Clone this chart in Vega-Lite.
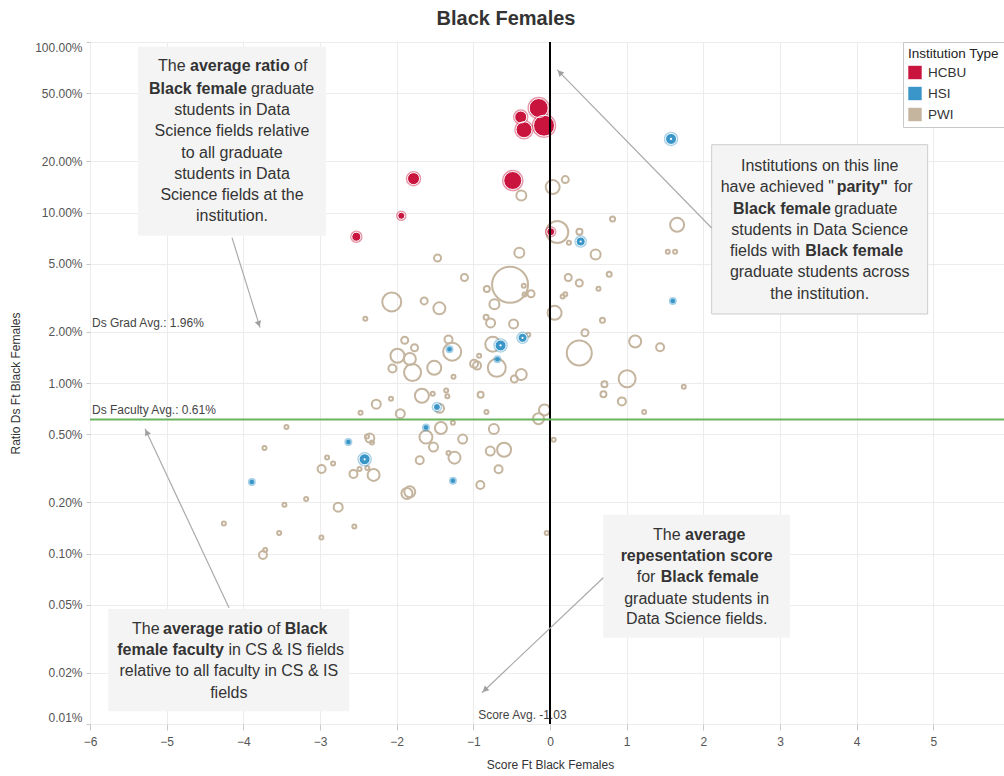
{
"$schema":"https://vega.github.io/schema/vega-lite/v6.json",
"width":920,"height":682,
"autosize":{"type":"none"},
"padding":{"left":90,"top":42,"right":-6,"bottom":52},
"background":"white",
"title":{"text":"Black Females","fontSize":20,"fontWeight":"bold","color":"#333333","offset":12,"dx":-44,"anchor":"middle"},
"config":{"font":"Liberation Sans","view":{"stroke":null},
 "legend":{"orient":"none","legendX":813,"legendY":0,"padding":5,"strokeColor":"#c8c8c8","fillColor":"white","titleFontSize":13.5,"titleFontWeight":"normal","titleColor":"#222222","titlePadding":5,"labelFontSize":13.5,"labelColor":"#333333","labelOffset":6,"rowPadding":7,"symbolType":"square","symbolSize":180,"symbolStrokeWidth":0,"symbolOpacity":1}},
"datasets":{
"points":[
{"type":"HCBU","score":-0.147,"ratio":0.41,"grads":1444},
{"type":"HCBU","score":-0.382,"ratio":0.363,"grads":576},
{"type":"HCBU","score":-0.339,"ratio":0.306,"grads":1024},
{"type":"HCBU","score":-0.078,"ratio":0.323,"grads":1764},
{"type":"HCBU","score":-0.486,"ratio":0.154,"grads":1296},
{"type":"HCBU","score":-1.78,"ratio":0.158,"grads":576},
{"type":"HCBU","score":-1.94,"ratio":0.0957,"grads":196},
{"type":"HCBU","score":-2.526,"ratio":0.0721,"grads":324},
{"type":"HCBU","score":0.009,"ratio":0.0771,"grads":256},
{"type":"HSI","score":1.579,"ratio":0.27,"grads":484},
{"type":"HSI","score":0.4,"ratio":0.0676,"grads":324},
{"type":"HSI","score":1.602,"ratio":0.0303,"grads":81},
{"type":"HSI","score":-0.358,"ratio":0.0184,"grads":324},
{"type":"HSI","score":-0.645,"ratio":0.0166,"grads":484},
{"type":"HSI","score":-1.311,"ratio":0.0158,"grads":81},
{"type":"HSI","score":-0.686,"ratio":0.0138,"grads":81},
{"type":"HSI","score":-1.475,"ratio":0.00723,"grads":196},
{"type":"HSI","score":-1.618,"ratio":0.00548,"grads":81},
{"type":"HSI","score":-2.63,"ratio":0.00451,"grads":81},
{"type":"HSI","score":-2.418,"ratio":0.00357,"grads":484},
{"type":"HSI","score":-3.889,"ratio":0.00263,"grads":81},
{"type":"HSI","score":-1.266,"ratio":0.00267,"grads":81},
{"type":"PWI","score":0.035,"ratio":0.141,"grads":784},
{"type":"PWI","score":0.199,"ratio":0.156,"grads":196},
{"type":"PWI","score":-0.374,"ratio":0.126,"grads":400},
{"type":"PWI","score":0.095,"ratio":0.0769,"grads":1936},
{"type":"PWI","score":0.384,"ratio":0.0771,"grads":144},
{"type":"PWI","score":0.247,"ratio":0.0665,"grads":64},
{"type":"PWI","score":-0.4,"ratio":0.0581,"grads":400},
{"type":"PWI","score":0.595,"ratio":0.0567,"grads":400},
{"type":"PWI","score":-1.467,"ratio":0.0541,"grads":196},
{"type":"PWI","score":-1.116,"ratio":0.0416,"grads":196},
{"type":"PWI","score":-0.521,"ratio":0.0377,"grads":5184},
{"type":"PWI","score":-0.824,"ratio":0.0356,"grads":144},
{"type":"PWI","score":-0.342,"ratio":0.0372,"grads":64},
{"type":"PWI","score":-0.247,"ratio":0.0334,"grads":196},
{"type":"PWI","score":-0.332,"ratio":0.033,"grads":64},
{"type":"PWI","score":-0.725,"ratio":0.029,"grads":400},
{"type":"PWI","score":0.238,"ratio":0.0416,"grads":196},
{"type":"PWI","score":0.382,"ratio":0.0386,"grads":196},
{"type":"PWI","score":0.199,"ratio":0.0332,"grads":64},
{"type":"PWI","score":0.165,"ratio":0.0322,"grads":64},
{"type":"PWI","score":0.632,"ratio":0.0357,"grads":64},
{"type":"PWI","score":-2.064,"ratio":0.0299,"grads":1444},
{"type":"PWI","score":-1.641,"ratio":0.0303,"grads":196},
{"type":"PWI","score":-1.443,"ratio":0.0274,"grads":576},
{"type":"PWI","score":-2.409,"ratio":0.0238,"grads":64},
{"type":"PWI","score":0.06,"ratio":0.0258,"grads":784},
{"type":"PWI","score":-0.833,"ratio":0.0243,"grads":100},
{"type":"PWI","score":0.816,"ratio":0.0916,"grads":100},
{"type":"PWI","score":1.658,"ratio":0.0847,"grads":784},
{"type":"PWI","score":1.536,"ratio":0.0589,"grads":64},
{"type":"PWI","score":1.632,"ratio":0.0589,"grads":64},
{"type":"PWI","score":0.772,"ratio":0.0435,"grads":100},
{"type":"PWI","score":0.684,"ratio":0.0233,"grads":100},
{"type":"PWI","score":0.456,"ratio":0.0197,"grads":196},
{"type":"PWI","score":0.382,"ratio":0.015,"grads":2500},
{"type":"PWI","score":1.111,"ratio":0.0175,"grads":576},
{"type":"PWI","score":1.436,"ratio":0.0162,"grads":256},
{"type":"PWI","score":1.006,"ratio":0.0106,"grads":1156},
{"type":"PWI","score":0.71,"ratio":0.00984,"grads":144},
{"type":"PWI","score":0.697,"ratio":0.0086,"grads":144},
{"type":"PWI","score":0.9375,"ratio":0.0078,"grads":256},
{"type":"PWI","score":1.745,"ratio":0.00951,"grads":64},
{"type":"PWI","score":1.228,"ratio":0.00676,"grads":64},
{"type":"PWI","score":-0.072,"ratio":0.00695,"grads":484},
{"type":"PWI","score":-0.15,"ratio":0.00618,"grads":484},
{"type":"PWI","score":-0.775,"ratio":0.0225,"grads":324},
{"type":"PWI","score":-0.475,"ratio":0.0222,"grads":324},
{"type":"PWI","score":-0.283,"ratio":0.0192,"grads":64},
{"type":"PWI","score":-0.746,"ratio":0.0169,"grads":900},
{"type":"PWI","score":-1.324,"ratio":0.018,"grads":256},
{"type":"PWI","score":-1.276,"ratio":0.01526,"grads":1296},
{"type":"PWI","score":-1.895,"ratio":0.0178,"grads":196},
{"type":"PWI","score":-1.767,"ratio":0.0161,"grads":196},
{"type":"PWI","score":-1.99,"ratio":0.01445,"grads":784},
{"type":"PWI","score":-1.828,"ratio":0.01384,"grads":576},
{"type":"PWI","score":-2.055,"ratio":0.01216,"grads":256},
{"type":"PWI","score":-1.793,"ratio":0.01153,"grads":1156},
{"type":"PWI","score":-1.51,"ratio":0.01227,"grads":784},
{"type":"PWI","score":-0.99,"ratio":0.01297,"grads":256},
{"type":"PWI","score":-0.951,"ratio":0.01265,"grads":256},
{"type":"PWI","score":-0.924,"ratio":0.01445,"grads":64},
{"type":"PWI","score":-0.694,"ratio":0.01227,"grads":1296},
{"type":"PWI","score":-1.259,"ratio":0.01089,"grads":64},
{"type":"PWI","score":-0.375,"ratio":0.01122,"grads":484},
{"type":"PWI","score":-0.465,"ratio":0.01055,"grads":196},
{"type":"PWI","score":-0.905,"ratio":0.00854,"grads":144},
{"type":"PWI","score":-1.671,"ratio":0.00842,"grads":784},
{"type":"PWI","score":-1.53,"ratio":0.00865,"grads":64},
{"type":"PWI","score":-1.354,"ratio":0.00905,"grads":64},
{"type":"PWI","score":-1.339,"ratio":0.00837,"grads":64},
{"type":"PWI","score":-2.266,"ratio":0.00751,"grads":324},
{"type":"PWI","score":-2.074,"ratio":0.00809,"grads":64},
{"type":"PWI","score":-2.471,"ratio":0.0067,"grads":64},
{"type":"PWI","score":-1.953,"ratio":0.00661,"grads":324},
{"type":"PWI","score":-0.829,"ratio":0.00676,"grads":64},
{"type":"PWI","score":-1.441,"ratio":0.0071,"grads":324},
{"type":"PWI","score":-1.267,"ratio":0.00585,"grads":64},
{"type":"PWI","score":0.048,"ratio":0.00465,"grads":64},
{"type":"PWI","score":-0.043,"ratio":0.00132,"grads":64},
{"type":"PWI","score":-3.4375,"ratio":0.00552,"grads":64},
{"type":"PWI","score":-3.724,"ratio":0.00415,"grads":64},
{"type":"PWI","score":-2.908,"ratio":0.00366,"grads":64},
{"type":"PWI","score":-2.829,"ratio":0.00337,"grads":64},
{"type":"PWI","score":-2.979,"ratio":0.00313,"grads":256},
{"type":"PWI","score":-2.35,"ratio":0.00475,"grads":324},
{"type":"PWI","score":-2.387,"ratio":0.00486,"grads":64},
{"type":"PWI","score":-2.322,"ratio":0.00447,"grads":64},
{"type":"PWI","score":-2.563,"ratio":0.00293,"grads":256},
{"type":"PWI","score":-2.484,"ratio":0.00313,"grads":64},
{"type":"PWI","score":-2.383,"ratio":0.00317,"grads":64},
{"type":"PWI","score":-2.301,"ratio":0.00289,"grads":576},
{"type":"PWI","score":-1.618,"ratio":0.00482,"grads":676},
{"type":"PWI","score":-1.52,"ratio":0.00421,"grads":324},
{"type":"PWI","score":-1.423,"ratio":0.00545,"grads":576},
{"type":"PWI","score":-1.699,"ratio":0.00352,"grads":256},
{"type":"PWI","score":-1.246,"ratio":0.00365,"grads":576},
{"type":"PWI","score":-1.324,"ratio":0.00388,"grads":64},
{"type":"PWI","score":-1.139,"ratio":0.00469,"grads":324},
{"type":"PWI","score":-0.732,"ratio":0.00538,"grads":400},
{"type":"PWI","score":-0.779,"ratio":0.00399,"grads":324},
{"type":"PWI","score":-0.599,"ratio":0.00406,"grads":784},
{"type":"PWI","score":-0.671,"ratio":0.00312,"grads":256},
{"type":"PWI","score":-0.909,"ratio":0.00252,"grads":256},
{"type":"PWI","score":-1.866,"ratio":0.00225,"grads":484},
{"type":"PWI","score":-1.829,"ratio":0.0023,"grads":484},
{"type":"PWI","score":-3.464,"ratio":0.00193,"grads":64},
{"type":"PWI","score":-3.181,"ratio":0.00209,"grads":64},
{"type":"PWI","score":-2.763,"ratio":0.00187,"grads":324},
{"type":"PWI","score":-4.254,"ratio":0.0015,"grads":64},
{"type":"PWI","score":-3.533,"ratio":0.00132,"grads":64},
{"type":"PWI","score":-2.982,"ratio":0.00124,"grads":64},
{"type":"PWI","score":-2.552,"ratio":0.00144,"grads":64},
{"type":"PWI","score":-3.744,"ratio":0.000981,"grads":256},
{"type":"PWI","score":-3.715,"ratio":0.00105,"grads":64}
],
"refLabels":[
{"score":-6,"ratio":0.0196,"text":"Ds Grad Avg.: 1.96%"},
{"score":-6,"ratio":0.0061,"text":"Ds Faculty Avg.: 0.61%"}
],
"scoreLabel":[{"score":-0.36,"ratio":0.0001,"text":"Score Avg. -1.03"}],
"boxes":[
{"score":-5.374,"score2":-2.922,"ratio":0.9384,"ratio2":0.0731},
{"score":0.695,"score2":3.13,"ratio":0.001689,"ratio2":0.0003208},
{"score":-5.761,"score2":-2.618,"ratio":0.0004725,"ratio2":0.0001186}
],
"boxBorder":[{"score":2.109,"score2":4.926,"ratio":0.2498,"ratio2":0.02539}],
"arrows":[
{"arrow":"a1","score":-4.148,"ratio":0.0712,"score2":-3.782,"ratio2":0.02111},
{"arrow":"a2","score":2.109,"ratio":0.08111,"score2":0.0913,"ratio2":0.688},
{"arrow":"a3","score":-4.187,"ratio":0.0004809,"score2":-5.282,"ratio2":0.005395},
{"arrow":"a4","score":0.695,"ratio":0.0007213,"score2":-0.887,"ratio2":0.0001526}
],
"centerNormal":[
{"score":-4.148,"ratio":0.4009,"text":"students in Data"},
{"score":-4.148,"ratio":0.299,"text":"Science fields relative"},
{"score":-4.148,"ratio":0.2243,"text":"to all graduate"},
{"score":-4.148,"ratio":0.1689,"text":"students in Data"},
{"score":-4.148,"ratio":0.126,"text":"Science fields at the"},
{"score":-4.148,"ratio":0.0949,"text":"institution."},
{"score":3.518,"ratio":0.1881,"text":"Institutions on this line"},
{"score":3.518,"ratio":0.0785,"text":"students in Data Science"},
{"score":3.518,"ratio":0.04453,"text":"graduate students across"},
{"score":3.518,"ratio":0.03341,"text":"the institution."},
{"score":1.913,"ratio":0.0005408,"text":"graduate students in"},
{"score":1.913,"ratio":0.0004145,"text":"Data Science fields."},
{"score":-4.189,"ratio":0.0002035,"text":"relative to all faculty in CS & IS"},
{"score":-4.189,"ratio":0.000152,"text":"fields"}
],
"centerBold":[
{"score":1.913,"ratio":0.0009616,"text":"repesentation score"}
],
"leftNormal":[
{"score":-5.113,"ratio":0.7192,"text":"The"},
{"score":-3.339,"ratio":0.7192,"text":"of"},
{"score":-3.9,"ratio":0.5322,"text":"graduate"},
{"score":2.226,"ratio":0.1404,"text":"have achieved \""},
{"score":4.487,"ratio":0.1404,"text":"for"},
{"score":3.709,"ratio":0.1053,"text":"graduate"},
{"score":2.348,"ratio":0.05912,"text":"fields with"},
{"score":1.343,"ratio":0.001289,"text":"The"},
{"score":1.131,"ratio":0.0007242,"text":"for"},
{"score":-5.452,"ratio":0.0003608,"text":"The"},
{"score":-3.691,"ratio":0.0003608,"text":"of"},
{"score":-4.195,"ratio":0.0002703,"text":"in CS & IS fields"}
],
"leftBold":[
{"score":-4.695,"ratio":0.7192,"text":"average ratio"},
{"score":-5.23,"ratio":0.5322,"text":"Black female"},
{"score":3.739,"ratio":0.1404,"text":"parity\""},
{"score":2.387,"ratio":0.1053,"text":"Black female"},
{"score":3.33,"ratio":0.05912,"text":"Black female"},
{"score":1.761,"ratio":0.001289,"text":"average"},
{"score":1.445,"ratio":0.0007242,"text":"Black female"},
{"score":-5.047,"ratio":0.0003608,"text":"average ratio"},
{"score":-3.46,"ratio":0.0003608,"text":"Black"},
{"score":-5.644,"ratio":0.0002703,"text":"female faculty"}
]
},
"layer":[
{"data":{"name":"points"},"transform":[{"filter":"datum.type === 'PWI'"}],
 "mark":{"type":"point","shape":"circle","filled":false,"strokeWidth":2,"opacity":1},
 "encoding":{
  "x":{"field":"score","type":"quantitative","scale":{"domain":[-6,6],"nice":false,"zero":false},
   "axis":{"title":"Score Ft Black Females","values":[-6,-5,-4,-3,-2,-1,0,1,2,3,4,5,6],"format":"d","grid":true,"gridColor":"#ececec","domain":false,"ticks":true,"tickColor":"#c8c8c8","tickSize":6,"labelColor":"#555555","labelFontSize":12,"labelPadding":6,"labelFlush":false,"titleFontSize":12,"titleFontWeight":"normal","titleColor":"#333333","titlePadding":12}},
  "y":{"field":"ratio","type":"quantitative","scale":{"type":"log","domain":[0.0001,1],"nice":false},
   "axis":{"title":"Ratio Ds Ft Black Females","values":[1,0.5,0.2,0.1,0.05,0.02,0.01,0.005,0.002,0.001,0.0005,0.0002,0.0001],"format":".2%","grid":true,"gridColor":"#ececec","domain":false,"ticks":true,"tickColor":"#c8c8c8","tickSize":4,"labelColor":"#555555","labelFontSize":12,"labelPadding":4,"labelFlush":true,"labelOverlap":false,"titleFontSize":12,"titleFontWeight":"normal","titleColor":"#333333","titlePadding":12}},
  "size":{"field":"grads","type":"quantitative","scale":{"domain":[0,10000],"range":[0,2500]},"legend":null},
  "color":{"value":"#c5b59f"}
 }},
{"data":{"name":"points"},"transform":[{"filter":"datum.type !== 'PWI'"}],
 "mark":{"type":"point","shape":"circle","filled":true,"opacity":1,"strokeWidth":0},
 "encoding":{
  "x":{"field":"score","type":"quantitative"},
  "y":{"field":"ratio","type":"quantitative"},
  "size":{"field":"grads","type":"quantitative","legend":null},
  "fill":{"field":"type","type":"nominal","scale":{"domain":["HCBU","HSI","PWI"],"range":["#c9153e","#3a96c8","#c5b59f"]},
   "legend":{"title":"Institution Type"}}
 }},
{"data":{"name":"points"},"transform":[{"filter":"datum.type === 'HCBU'"}],
 "mark":{"type":"point","shape":"circle","filled":false,"opacity":1,"strokeWidth":3.5,"strokeOpacity":0.45,"color":"#c9153e"},
 "encoding":{
  "x":{"field":"score","type":"quantitative"},
  "y":{"field":"ratio","type":"quantitative"},
  "size":{"field":"grads","type":"quantitative","legend":null}
 }},
{"data":{"name":"points"},"transform":[{"filter":"datum.type === 'HSI'"}],
 "mark":{"type":"point","shape":"circle","filled":false,"opacity":1,"strokeWidth":3.5,"strokeOpacity":0.45,"color":"#3a96c8"},
 "encoding":{
  "x":{"field":"score","type":"quantitative"},
  "y":{"field":"ratio","type":"quantitative"},
  "size":{"field":"grads","type":"quantitative","legend":null}
 }},
{"data":{"name":"points"},"transform":[{"filter":"datum.type !== 'PWI' && datum.grads > 150"}],
 "mark":{"type":"point","shape":"circle","filled":false,"opacity":1,"strokeWidth":1,"color":"white"},
 "encoding":{
  "x":{"field":"score","type":"quantitative"},
  "y":{"field":"ratio","type":"quantitative"},
  "size":{"field":"grads","type":"quantitative","legend":null}
 }},
{"data":{"name":"points"},"transform":[{"filter":"datum.type === 'HSI' && datum.grads > 200"}],
 "mark":{"type":"point","shape":"circle","filled":true,"opacity":1,"color":"white","size":5},
 "encoding":{
  "x":{"field":"score","type":"quantitative"},
  "y":{"field":"ratio","type":"quantitative"}
 }},
{"data":{"values":[{}]},"mark":{"type":"rule","color":"#000000","strokeWidth":2},
 "encoding":{"x":{"datum":0,"type":"quantitative"}}},
{"data":{"values":[{}]},"mark":{"type":"rule","color":"#6bb35e","strokeWidth":2},
 "encoding":{"y":{"datum":0.0061,"type":"quantitative"}}},
{"data":{"name":"refLabels"},"mark":{"type":"text","align":"left","baseline":"bottom","dx":2,"dy":-3,"fontSize":12,"color":"#444444"},
 "encoding":{"x":{"field":"score","type":"quantitative"},"y":{"field":"ratio","type":"quantitative"},"text":{"field":"text"}}},
{"data":{"name":"scoreLabel"},"mark":{"type":"text","align":"center","baseline":"bottom","dy":-2,"fontSize":12,"color":"#444444"},
 "encoding":{"x":{"field":"score","type":"quantitative"},"y":{"field":"ratio","type":"quantitative"},"text":{"field":"text"}}},
{"data":{"name":"boxes"},"mark":{"type":"rect","fill":"#f4f4f4","opacity":1},
 "encoding":{"x":{"field":"score","type":"quantitative"},"x2":{"field":"score2"},"y":{"field":"ratio","type":"quantitative"},"y2":{"field":"ratio2"}}},
{"data":{"name":"boxBorder"},"mark":{"type":"rect","fill":"#f4f4f4","opacity":1,"stroke":"#cccccc","strokeWidth":1},
 "encoding":{"x":{"field":"score","type":"quantitative"},"x2":{"field":"score2"},"y":{"field":"ratio","type":"quantitative"},"y2":{"field":"ratio2"}}},
{"data":{"name":"arrows"},"mark":{"type":"rule","color":"#aaaaaa","strokeWidth":1.2},
 "encoding":{"x":{"field":"score","type":"quantitative"},"x2":{"field":"score2"},"y":{"field":"ratio","type":"quantitative"},"y2":{"field":"ratio2"}}},
{"data":{"values":[{"arrow":"a1","score":-3.799,"ratio":0.02221}]},"mark":{"type":"point","shape":"triangle-up","filled":true,"color":"#a0a0a0","opacity":1,"size":45,"angle":162.7},
 "encoding":{"x":{"field":"score","type":"quantitative"},"y":{"field":"ratio","type":"quantitative"}}},
{"data":{"values":[{"arrow":"a2","score":0.128,"ratio":0.6615}]},"mark":{"type":"point","shape":"triangle-up","filled":true,"color":"#a0a0a0","opacity":1,"size":45,"angle":-44.3},
 "encoding":{"x":{"field":"score","type":"quantitative"},"y":{"field":"ratio","type":"quantitative"}}},
{"data":{"values":[{"arrow":"a3","score":-5.26,"ratio":0.005138}]},"mark":{"type":"point","shape":"triangle-up","filled":true,"color":"#a0a0a0","opacity":1,"size":45,"angle":-25.1},
 "encoding":{"x":{"field":"score","type":"quantitative"},"y":{"field":"ratio","type":"quantitative"}}},
{"data":{"values":[{"arrow":"a4","score":-0.849,"ratio":0.0001585}]},"mark":{"type":"point","shape":"triangle-up","filled":true,"color":"#a0a0a0","opacity":1,"size":45,"angle":-133.5},
 "encoding":{"x":{"field":"score","type":"quantitative"},"y":{"field":"ratio","type":"quantitative"}}},
{"data":{"name":"centerNormal"},"mark":{"type":"text","align":"center","baseline":"middle","fontSize":16,"color":"#333333"},
 "encoding":{"x":{"field":"score","type":"quantitative"},"y":{"field":"ratio","type":"quantitative"},"text":{"field":"text"}}},
{"data":{"name":"centerBold"},"mark":{"type":"text","align":"center","baseline":"middle","fontSize":16,"fontWeight":"bold","color":"#333333"},
 "encoding":{"x":{"field":"score","type":"quantitative"},"y":{"field":"ratio","type":"quantitative"},"text":{"field":"text"}}},
{"data":{"name":"leftNormal"},"mark":{"type":"text","align":"left","baseline":"middle","fontSize":16,"color":"#333333"},
 "encoding":{"x":{"field":"score","type":"quantitative"},"y":{"field":"ratio","type":"quantitative"},"text":{"field":"text"}}},
{"data":{"name":"leftBold"},"mark":{"type":"text","align":"left","baseline":"middle","fontSize":16,"fontWeight":"bold","color":"#333333"},
 "encoding":{"x":{"field":"score","type":"quantitative"},"y":{"field":"ratio","type":"quantitative"},"text":{"field":"text"}}}
]
}
